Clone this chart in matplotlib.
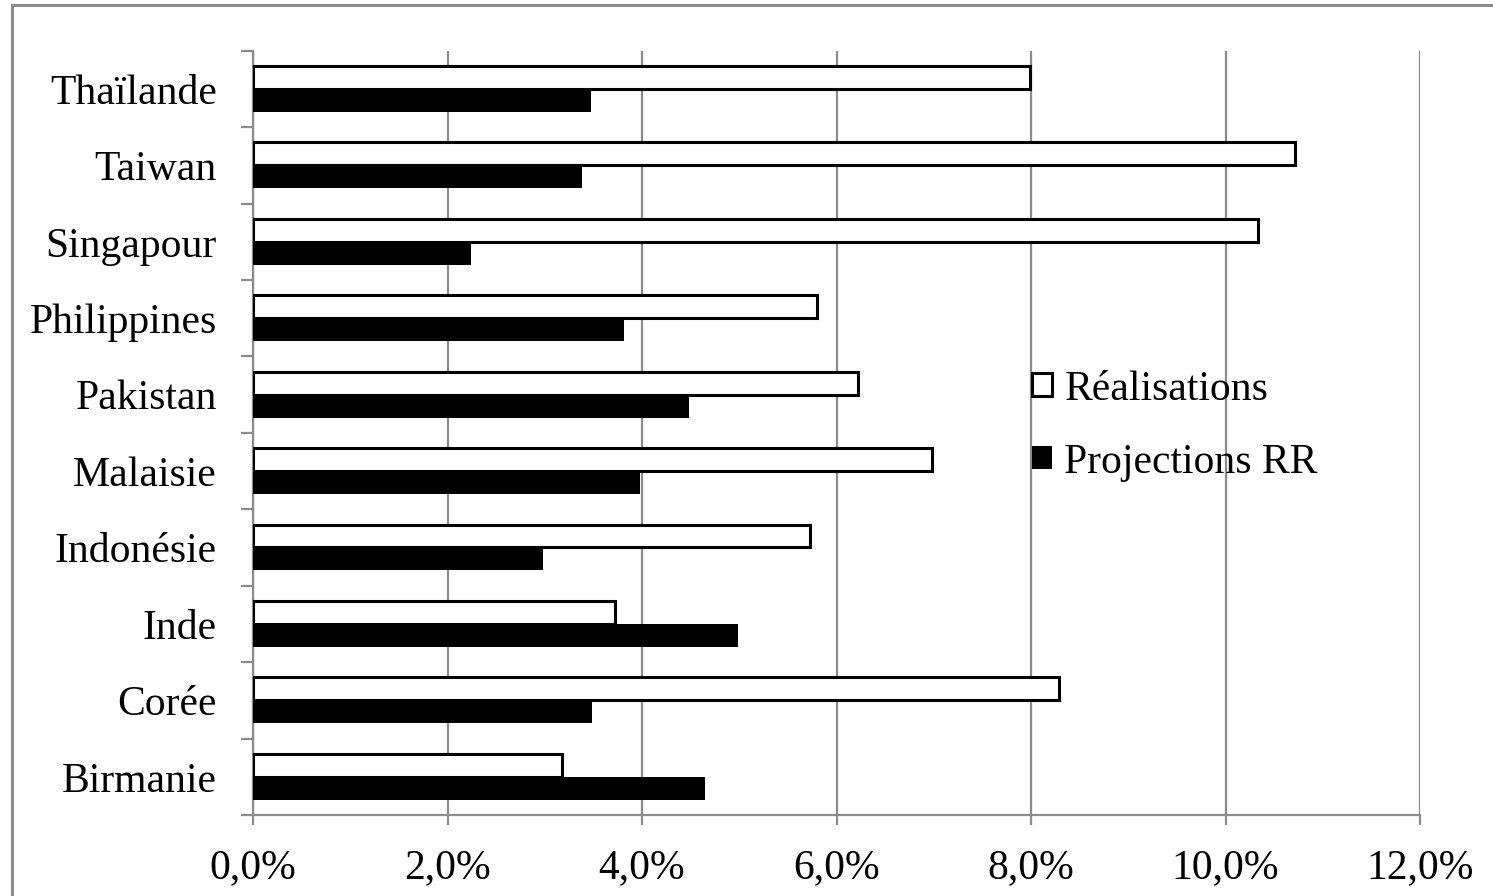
import matplotlib
matplotlib.use("Agg")
import matplotlib.pyplot as plt
from matplotlib.patches import Patch
from matplotlib.lines import Line2D
from matplotlib.ticker import FuncFormatter, FixedLocator
import numpy as np

plt.rcParams['font.family'] = ['Liberation Serif', 'DejaVu Serif']

countries = ["Birmanie", "Corée", "Inde", "Indonésie", "Malaisie",
             "Pakistan", "Philippines", "Singapour", "Taiwan", "Thaïlande"]
realisations = [3.18, 8.29, 3.72, 5.73, 6.98, 6.22, 5.80, 10.33, 10.71, 7.99]
projections_rr = [4.65, 3.49, 4.99, 2.98, 3.98, 4.48, 3.82, 2.24, 3.38, 3.48]
xticks = [0, 2, 4, 6, 8, 10, 12]

W, H = 1493, 896
fig = plt.figure(figsize=(W / 100, H / 100), dpi=100)
ax = fig.add_axes([253 / W, (H - 815) / H, (1420 - 253) / W, (815 - 50.7) / H])

grey = "#8c8c8c"
fs = 30
y = np.arange(len(countries))
bh = 0.3
ax.barh(y + bh / 2, realisations, height=bh, color="white", edgecolor="black",
        linewidth=2.2, label="Réalisations", zorder=3)
ax.barh(y - bh / 2, projections_rr, height=bh, color="black", edgecolor="black",
        linewidth=0, label="Projections RR", zorder=3)

ax.set_xlim(0, 12)
ax.set_ylim(-0.5, len(countries) - 0.5)
ax.xaxis.set_major_locator(FixedLocator(xticks))
ax.xaxis.set_major_formatter(FuncFormatter(lambda v, p: f"{v:.1f}".replace(".", ",") + "%"))
ax.grid(axis="x", color=grey, linewidth=1.6, zorder=0)

ax.yaxis.set_major_locator(FixedLocator(np.arange(-0.5, len(countries), 1.0)))
ax.yaxis.set_major_formatter(FuncFormatter(lambda v, p: ""))
ax.yaxis.set_minor_locator(FixedLocator(y))
ax.set_yticklabels(countries, minor=True)
ax.tick_params(axis="y", which="major", length=8.6, width=1.6, color=grey)
ax.tick_params(axis="y", which="minor", length=0, pad=26, labelsize=fs)
ax.tick_params(axis="x", which="major", length=7, width=1.6, color=grey, pad=17, labelsize=fs)

for s in ["top", "right"]:
    ax.spines[s].set_visible(False)
for s in ["left", "bottom"]:
    ax.spines[s].set_color(grey)
    ax.spines[s].set_linewidth(1.6)

handles = [Patch(facecolor="white", edgecolor="black", linewidth=2.2),
           Patch(facecolor="black", edgecolor="black", linewidth=0)]
fig.legend(handles, ["Réalisations", "Projections RR"], loc="upper left",
           bbox_to_anchor=(1032 / W, 1 - 370 / H), frameon=False, fontsize=fs,
           handlelength=0.48, handleheight=0.48, handletextpad=0.3,
           labelspacing=0.83, borderpad=0, borderaxespad=0)

# outer chart-area border (left and top edges visible)
fig.add_artist(Line2D([12 / W, 12 / W], [0, 1 - 5 / H], transform=fig.transFigure,
                      color=grey, linewidth=2.2))
fig.add_artist(Line2D([12 / W, 1], [1 - 5 / H, 1 - 5 / H], transform=fig.transFigure,
                      color=grey, linewidth=2.2))

fig.savefig("out.png", dpi=100)
